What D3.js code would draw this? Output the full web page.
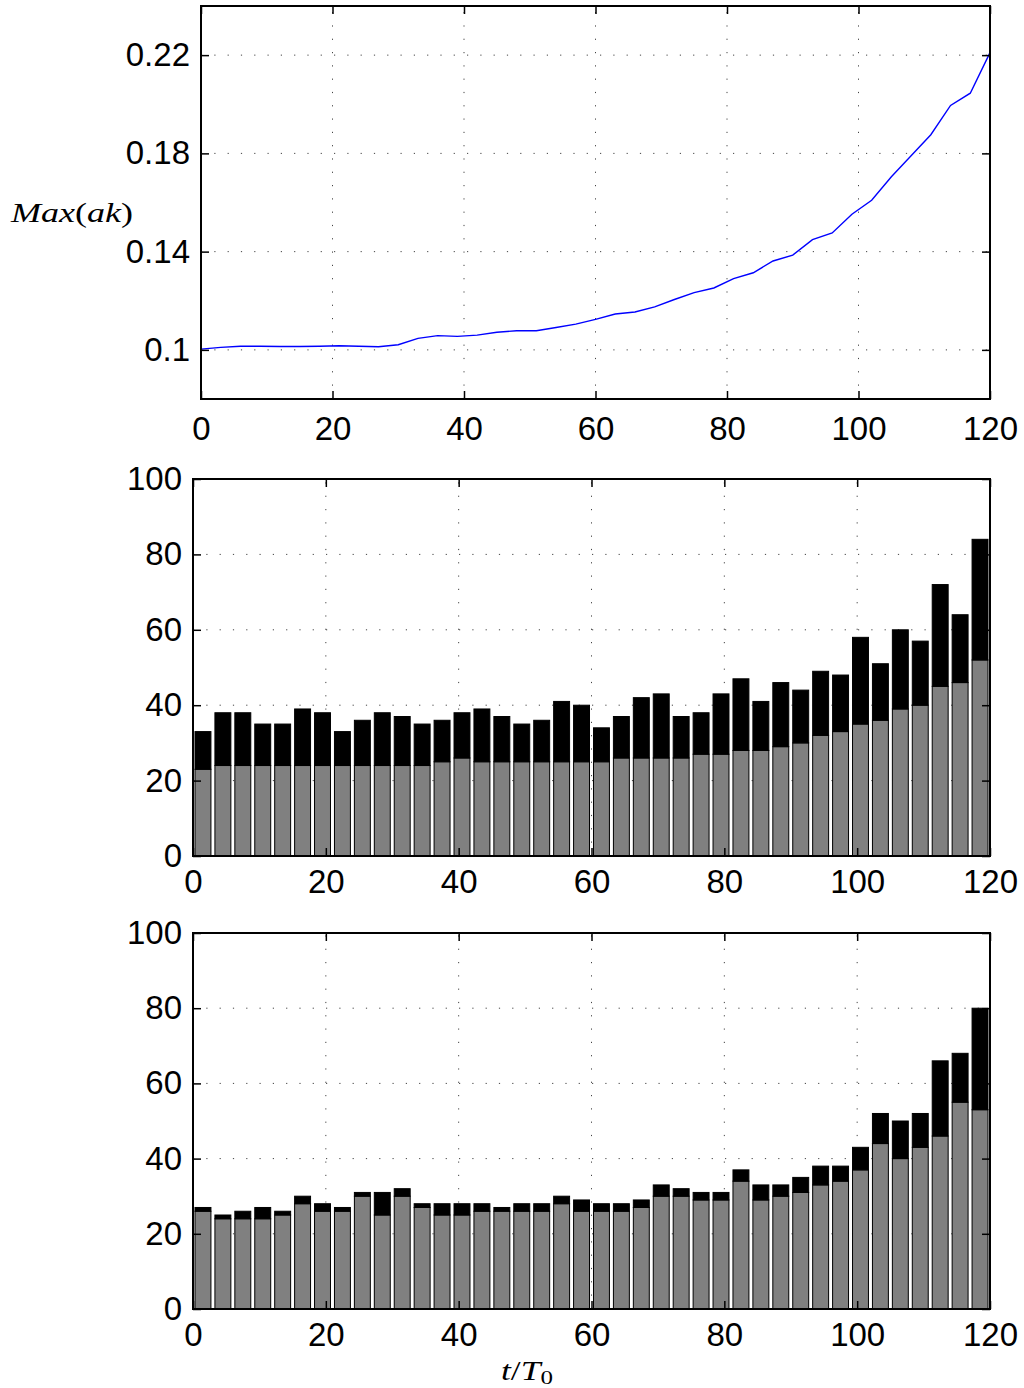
<!DOCTYPE html>
<html>
<head>
<meta charset="utf-8">
<script src="https://cdn.jsdelivr.net/npm/d3@7"></script>
<style>
  body { margin: 0; background: #fff; }
  svg { display: block; }
</style>
</head>
<body>
<svg id="chart" width="1024" height="1388"></svg>
<script>
// time samples of the top curve (t/T0)
const tTime = [0, 3, 6, 9, 12, 15, 18, 21, 24, 27, 30, 33, 36, 39, 42, 45, 48, 51, 54, 57,
  60, 63, 66, 69, 72, 75, 78, 81, 84, 87, 90, 93, 96, 99, 102, 105, 108, 111, 114, 117, 120];
const maxAk = [0.1003, 0.1010, 0.1015, 0.1015, 0.1014, 0.1014, 0.1015, 0.1017, 0.1015, 0.1013,
  0.1021, 0.1047, 0.1058, 0.1055, 0.1060, 0.1072, 0.1078, 0.1078, 0.1091, 0.1105,
  0.1124, 0.1146, 0.1154, 0.1175, 0.1205, 0.1233, 0.1252, 0.1290, 0.1314, 0.1362,
  0.1386, 0.1449, 0.1476, 0.1552, 0.1609, 0.1705, 0.1790, 0.1876, 0.1995, 0.2045, 0.2210];

// bar centres
const barT = [1.5, 4.5, 7.5, 10.5, 13.5, 16.5, 19.5, 22.5, 25.5, 28.5, 31.5, 34.5, 37.5, 40.5,
  43.5, 46.5, 49.5, 52.5, 55.5, 58.5, 61.5, 64.5, 67.5, 70.5, 73.5, 76.5, 79.5, 82.5,
  85.5, 88.5, 91.5, 94.5, 97.5, 100.5, 103.5, 106.5, 109.5, 112.5, 115.5, 118.5];

// middle panel: grey part and total height
const midGray  = [23, 24, 24, 24, 24, 24, 24, 24, 24, 24, 24, 24, 25, 26, 25, 25, 25, 25, 25, 25,
  25, 26, 26, 26, 26, 27, 27, 28, 28, 29, 30, 32, 33, 35, 36, 39, 40, 45, 46, 52];
const midTotal = [33, 38, 38, 35, 35, 39, 38, 33, 36, 38, 37, 35, 36, 38, 39, 37, 35, 36, 41, 40,
  34, 37, 42, 43, 37, 38, 43, 47, 41, 46, 44, 49, 48, 58, 51, 60, 57, 72, 64, 84];

// bottom panel
const lowGray  = [26, 24, 24, 24, 25, 28, 26, 26, 30, 25, 30, 27, 25, 25, 26, 26, 26, 26, 28, 26,
  26, 26, 27, 30, 30, 29, 29, 34, 29, 30, 31, 33, 34, 37, 44, 40, 43, 46, 55, 53];
const lowTotal = [27, 25, 26, 27, 26, 30, 28, 27, 31, 31, 32, 28, 28, 28, 28, 27, 28, 28, 30, 29,
  28, 28, 29, 33, 32, 31, 31, 37, 33, 33, 35, 38, 38, 43, 52, 50, 52, 66, 68, 80];

const xTicks = [0, 20, 40, 60, 80, 100, 120];
const topYTicks = [0.1, 0.14, 0.18, 0.22];
const barYTicks = [0, 20, 40, 60, 80, 100];

const svg = d3.select("#chart");
svg.append("rect").attr("width", 1024).attr("height", 1388).attr("fill", "#fff");

const FONT = "'Liberation Sans', Arial, Helvetica, sans-serif";
const TICK = 8;

function panel(p) {
  const x = d3.scaleLinear().domain([0, 120]).range([p.x0, p.x1]);
  const y = d3.scaleLinear().domain(p.yDomain).range([p.y1, p.y0]);
  const g = svg.append("g");

  // dotted grid
  const grid = g.append("g").attr("stroke", "#444").attr("stroke-width", 1)
    .attr("stroke-dasharray", "1.2,12.1").attr("fill", "none");
  xTicks.slice(1, -1).forEach(v => {
    grid.append("line").attr("x1", x(v)).attr("x2", x(v)).attr("y1", p.y1).attr("y2", p.y0);
  });
  p.yTicks.filter(v => v > p.yDomain[0] && v < p.yDomain[1]).forEach(v => {
    grid.append("line").attr("y1", y(v)).attr("y2", y(v)).attr("x1", p.x0).attr("x2", p.x1);
  });

  const marks = g.append("g");

  // axes: ticks pointing inwards on all four sides
  const fmt = d => String(d);
  g.append("g").attr("transform", `translate(0,${p.y1})`)
    .call(d3.axisBottom(x).tickValues(xTicks).tickSize(-TICK).tickPadding(p.xPad).tickFormat(fmt));
  g.append("g").attr("transform", `translate(0,${p.y0})`)
    .call(d3.axisTop(x).tickValues(xTicks).tickSize(-TICK).tickFormat(""));
  g.append("g").attr("transform", `translate(${p.x0},0)`)
    .call(d3.axisLeft(y).tickValues(p.yTicks).tickSize(-TICK).tickPadding(11).tickFormat(fmt));
  g.append("g").attr("transform", `translate(${p.x1},0)`)
    .call(d3.axisRight(y).tickValues(p.yTicks).tickSize(-TICK).tickFormat(""));

  g.selectAll(".domain").remove();
  g.selectAll(".tick line").attr("stroke", "#000").attr("stroke-width", 1.5);
  g.selectAll(".tick text").attr("font-family", FONT).attr("font-size", 33).attr("fill", "#000");

  g.append("rect").attr("x", p.x0).attr("y", p.y0)
    .attr("width", p.x1 - p.x0).attr("height", p.y1 - p.y0)
    .attr("fill", "none").attr("stroke", "#000").attr("stroke-width", 2);

  return { x, y, marks };
}

// ---- top panel: Max(ak) ----
const topPanel = panel({ x0: 201, x1: 990, y0: 6, y1: 399, yDomain: [0.08, 0.24], yTicks: topYTicks, xPad: 18 });
const line = d3.line().x((d, i) => topPanel.x(tTime[i])).y(d => topPanel.y(d));
topPanel.marks.append("path").datum(maxAk).attr("d", line)
  .attr("fill", "none").attr("stroke", "#0000ff").attr("stroke-width", 1.4);

// ---- stacked bar panels ----
function bars(pn, gray, total) {
  const rows = barT.map((t, i) => ({ t: t, gray: gray[i], extra: total[i] - gray[i] }));
  const series = d3.stack().keys(["gray", "extra"])(rows);
  const colors = { gray: "#808080", extra: "#000" };
  const w = pn.x(2.4) - pn.x(0);
  series.forEach(s => {
    pn.marks.append("g").selectAll("rect").data(s).join("rect")
      .attr("x", d => pn.x(d.data.t) - w / 2)
      .attr("width", w)
      .attr("y", d => pn.y(d[1]))
      .attr("height", d => pn.y(d[0]) - pn.y(d[1]))
      .attr("fill", colors[s.key])
      .attr("stroke", "#000").attr("stroke-width", 1);
  });
}

const midPanel = panel({ x0: 193, x1: 990, y0: 479, y1: 856, yDomain: [0, 100], yTicks: barYTicks, xPad: 14 });
bars(midPanel, midGray, midTotal);

const lowPanel = panel({ x0: 193, x1: 990, y0: 933, y1: 1309, yDomain: [0, 100], yTicks: barYTicks, xPad: 14 });
bars(lowPanel, lowGray, lowTotal);

// ---- labels (math style) ----
const SERIF = "'Liberation Serif', 'Times New Roman', serif";
const yl = svg.append("text").attr("x", 11).attr("y", 222)
  .attr("font-family", SERIF).attr("font-size", 27).attr("fill", "#000")
  .attr("textLength", 122).attr("lengthAdjust", "spacingAndGlyphs");
yl.append("tspan").attr("font-style", "italic").text("Max");
yl.append("tspan").text("(");
yl.append("tspan").attr("font-style", "italic").text("ak");
yl.append("tspan").text(")");

const xl = svg.append("text").attr("x", 501).attr("y", 1380)
  .attr("font-family", SERIF).attr("font-size", 27).attr("fill", "#000")
  .attr("textLength", 52).attr("lengthAdjust", "spacingAndGlyphs");
xl.append("tspan").attr("font-style", "italic").text("t");
xl.append("tspan").text("/");
xl.append("tspan").attr("font-style", "italic").text("T");
xl.append("tspan").attr("font-size", 19).attr("dy", 4).text("0");
</script>
</body>
</html>
